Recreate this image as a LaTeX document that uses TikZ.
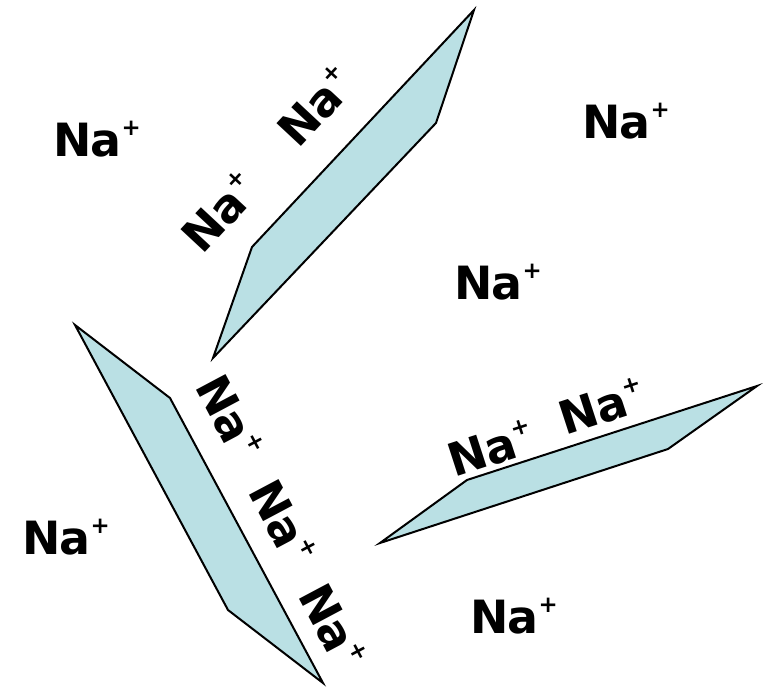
\documentclass[tikz,border=0pt]{standalone}
\usepackage{fontspec}
\setmainfont{DejaVu Sans}
\definecolor{plate}{RGB}{186,224,228}
\newcommand{\naion}{N\kern-0.02em a\raisebox{0.45em}{\fontsize{23}{23}\selectfont +}}
\tikzset{
  plate/.style={draw=black, line width=2bp, fill=plate, line join=miter},
  ion/.style={inner sep=0pt, font=\fontsize{46}{46}\selectfont\bfseries}
}
\begin{document}
\begin{tikzpicture}[x=1bp, y=-1bp]
\useasboundingbox (0,0) rectangle (763,688);
% plates
\draw[plate] (474,10) coordinate (p1a) -- (436,123) coordinate (p1b) -- (213,358) coordinate (p1c) -- (252,247) coordinate (p1d) -- cycle;
\draw[plate] (75,325) coordinate (p2a) -- (170,398) coordinate (p2b) -- (323,683) coordinate (p2c) -- (228,610) coordinate (p2d) -- cycle;
\draw[plate] (380,543) coordinate (p3a) -- (467,480) coordinate (p3b) -- (757,386) coordinate (p3c) -- (668,449) coordinate (p3d) -- cycle;
% free ions
\node[ion] (n1) at (97,139) {\naion};
\node[ion] (n2) at (626,121) {\naion};
\node[ion] (n3) at (498,282) {\naion};
\node[ion] (n4) at (66,537) {\naion};
\node[ion] (n5) at (514,616) {\naion};
% ions on plate 1
\node[ion, rotate=47] (n6) at (316,106) {\naion};
\node[ion, rotate=47] (n7) at (220,212) {\naion};
% ions on plate 2
\node[ion, rotate=-62] (n8) at (230,417) {\naion};
\node[ion, rotate=-62] (n9) at (283,522) {\naion};
\node[ion, rotate=-62] (n10) at (333,626) {\naion};
% ions on plate 3
\node[ion, rotate=18] (n11) at (491,448) {\naion};
\node[ion, rotate=18] (n12) at (602,406) {\naion};
\end{tikzpicture}
\end{document}
